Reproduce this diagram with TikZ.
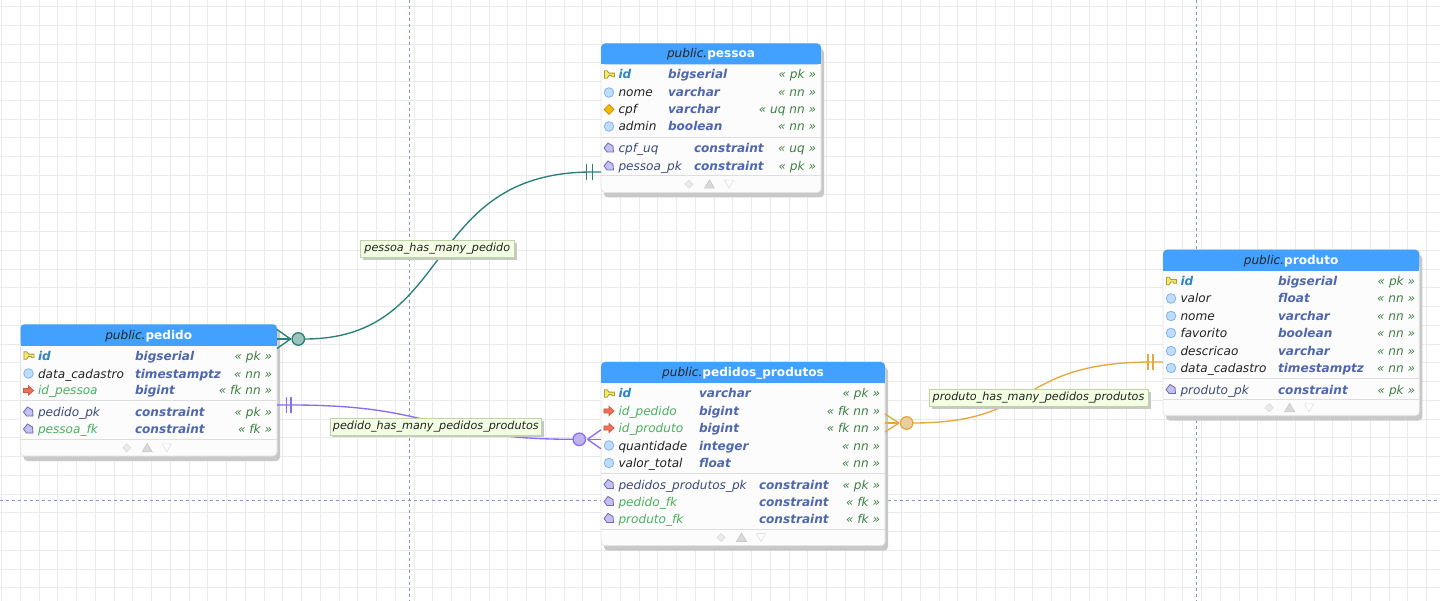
\documentclass[tikz,border=0pt]{standalone}
\usepackage{fontspec}
\setmainfont{DejaVu Sans}
\usetikzlibrary{shadows}
\definecolor{gridc}{HTML}{EAEAEA}
\definecolor{pagec}{HTML}{8494C6}
\definecolor{headc}{HTML}{42A0FF}
\definecolor{shadowc}{HTML}{C8C8C8}
\definecolor{bodyc}{HTML}{FCFCFC}
\definecolor{borderc}{HTML}{E4E4E4}
\definecolor{sepc}{HTML}{DEDEDE}
\definecolor{pkc}{HTML}{2E86C1}
\definecolor{plainc}{HTML}{222222}
\definecolor{fkc}{HTML}{4CAF5E}
\definecolor{conc}{HTML}{3D4A7A}
\definecolor{typec}{HTML}{4F67AE}
\definecolor{tagc}{HTML}{3F7F45}
\definecolor{tealc}{HTML}{2A8078}
\definecolor{tealf}{HTML}{9DC3BD}
\definecolor{purpc}{HTML}{8A6CF5}
\definecolor{purpf}{HTML}{C0B4EE}
\definecolor{orgc}{HTML}{E5A83F}
\definecolor{orgf}{HTML}{EACFA2}
\definecolor{lblf}{HTML}{F3FFE2}
\definecolor{lbld}{HTML}{BFD4A6}
\definecolor{keyf}{HTML}{F3E878}
\definecolor{keyd}{HTML}{A89C2A}
\definecolor{colf}{HTML}{BEDCFB}
\definecolor{cold}{HTML}{82B4EA}
\definecolor{uqf}{HTML}{F5B800}
\definecolor{uqd}{HTML}{B88C10}
\definecolor{fkf}{HTML}{F0705A}
\definecolor{fkd}{HTML}{C85A48}
\definecolor{conf}{HTML}{C4C0F0}
\definecolor{cond}{HTML}{6F69B3}
\tikzset{
  x=1pt,y=-1pt,
  tablebody/.style={draw=borderc,fill=bodyc,rounded corners=4pt,inner sep=0pt,outer sep=0pt,line width=.8pt},
  txt/.style={inner sep=0pt,outer sep=0pt,anchor=base west,font=\fontsize{12.1}{14}\selectfont\itshape},
  pkname/.style={txt,text=pkc,font=\fontsize{12.1}{14}\selectfont\itshape\bfseries},
  plainname/.style={txt,text=plainc},
  fkname/.style={txt,text=fkc},
  conname/.style={txt,text=conc},
  typetxt/.style={txt,text=typec,font=\fontsize{12.1}{14}\selectfont\itshape\bfseries},
  tagtxt/.style={txt,anchor=base east,text=tagc},
  titletxt/.style={inner sep=0pt,outer sep=0pt,anchor=base,font=\fontsize{12.1}{14}\selectfont},
  linklabel/.style={draw=lbld,fill=lblf,inner sep=0pt,line width=.7pt,text=plainc,
    font=\fontsize{11.2}{13}\selectfont\itshape,minimum height=16.5pt,
    drop shadow={shadow xshift=2.5pt,shadow yshift=-2.5pt,fill=shadowc,opacity=1}},
  crowdot/.style={circle,draw=#1,line width=1.3pt,minimum size=12.5pt,inner sep=0pt,outer sep=0pt},
  linkline/.style={draw=#1,line width=1.35pt},
  keyicon/.pic={\filldraw[fill=keyf,draw=keyd,line width=.8pt,scale=.92]
     (-5,-4)--(-2,-4)--(0,-1.5)--(6,-1.5)--(6,2.5)--(3,2.5)--(3,1)--(0,1)--(-2,4)--(-5,4)--cycle;},
  colicon/.pic={\filldraw[fill=colf,draw=cold,line width=.8pt] (0,0) circle (4.8);},
  uqicon/.pic={\filldraw[fill=uqf,draw=uqd,line width=.7pt] (-5,0)--(0,-5)--(5,0)--(0,5)--cycle;},
  fkicon/.pic={\filldraw[fill=fkf,draw=fkd,line width=.7pt,scale=.85]
     (-6,-2.4)--(0,-2.4)--(0,-5.4)--(6,0)--(0,5.4)--(0,2.4)--(-6,2.4)--cycle;},
  conicon/.pic={\filldraw[fill=conf,draw=cond,line width=.8pt]
     (-5,0)--(-1,-5)--(4,-2)--(4.5,4)--(-2,4)--cycle;},
  footicons/.pic={
    \filldraw[fill=black!8,draw=black!15,line width=.6pt] (-26,0)--(-22,-4)--(-18,0)--(-22,4)--cycle;
    \filldraw[fill=black!15,draw=black!22,line width=.6pt] (-6.5,4)--(-1.5,-4.5)--(3.5,4)--cycle;
    \filldraw[fill=white,draw=black!12,line width=.6pt] (13.5,-4)--(22.5,-4)--(18,4)--cycle;}
}
% id, x1, y1, x2, yhead, y2, title, sep1, sep2
\newcommand{\DbTable}[9]{%
  \fill[shadowc,rounded corners=4pt] (#2+3,#3+5) rectangle (#4+3,#6+5);
  \node[tablebody,anchor=north west,minimum width={(#4-#2)*1pt},minimum height={(#6-#3)*1pt}] (#1) at (#2,#3) {};
  \fill[headc,rounded corners=4pt] (#2,#3) rectangle (#4,#5);
  \fill[headc] (#2,#5-6) rectangle (#4,#5);
  \node[titletxt] (#1title) at ({(#2+#4)/2},#5-6.5) {\textit{\textcolor{black!85}{public.}}\textbf{\textcolor{white}{#7}}};
  \draw[sepc,line width=.8pt] (#2,#8) -- (#4,#8);
  \draw[sepc,line width=.8pt] (#2,#9) -- (#4,#9);
  \pic at ({(#2+#4)/2},#9+8.5) {footicons};
}
% node id, y, icon, name style, name, type x, type, tag
\newcommand{\DbRow}[8]{%
  \pic at (\IconX,#2) {#3};
  \node[#4] (#1n) at (\NameX,#2+4.5) {#5};
  \node[typetxt] (#1t) at (#6,#2+4.5) {#7};
  \node[tagtxt] (#1g) at (\TagX,#2+4.5) {« #8 »};
}
\begin{document}
\begin{tikzpicture}
\useasboundingbox (0,0) rectangle (1440,601);
\fill[white] (0,0) rectangle (1440,601);
% grid
\foreach \k in {0,...,76} \draw[gridc,line width=.9pt] ({1.5+18.75*\k},0) -- ({1.5+18.75*\k},601);
\foreach \k in {0,...,31} \draw[gridc,line width=.9pt] (0,{6.5+18.75*\k}) -- (1440,{6.5+18.75*\k});
% page limits
\draw[pagec,line width=.8pt,dash pattern=on 3pt off 3pt] (409,0) -- (409,601);
\draw[pagec,line width=.8pt,dash pattern=on 3pt off 3pt] (1196,0) -- (1196,601);
\draw[pagec,line width=.8pt,dash pattern=on 3pt off 3pt] (0,500) -- (1440,500);

\DbTable{pessoa}{601}{43.5}{821}{64.5}{192.5}{pessoa}{137.3}{175.7}
\def\IconX{609}\def\NameX{618.5}\def\TagX{816}
\DbRow{pa}{74.5}{keyicon}{pkname}{id}{668}{bigserial}{pk}
\DbRow{pb}{92.5}{colicon}{plainname}{nome}{668}{varchar}{nn}
\DbRow{pc}{109.5}{uqicon}{plainname}{cpf}{668}{varchar}{uq nn}
\DbRow{pd}{126.5}{colicon}{plainname}{admin}{668}{boolean}{nn}
\DbRow{pe}{148}{conicon}{conname}{cpf\_uq}{694}{constraint}{uq}
\DbRow{pf}{166}{conicon}{conname}{pessoa\_pk}{694}{constraint}{pk}

\DbTable{pedido}{20.5}{324.3}{277}{345.7}{456}{pedido}{400.7}{439.3}
\def\IconX{28.5}\def\NameX{38}\def\TagX{272}
\DbRow{ea}{355.5}{keyicon}{pkname}{id}{135}{bigserial}{pk}
\DbRow{eb}{373.5}{colicon}{plainname}{data\_cadastro}{135}{timestamptz}{nn}
\DbRow{ec}{390.5}{fkicon}{fkname}{id\_pessoa}{135}{bigint}{fk nn}
\DbRow{ed}{412}{conicon}{conname}{pedido\_pk}{135}{constraint}{pk}
\DbRow{ee}{429}{conicon}{fkname}{pessoa\_fk}{135}{constraint}{fk}

\DbTable{pprod}{601}{362}{885}{382.7}{545.7}{pedidos\_produtos}{473.3}{529}
\def\IconX{609}\def\NameX{618.5}\def\TagX{880}
\DbRow{ga}{393.5}{keyicon}{pkname}{id}{699}{varchar}{pk}
\DbRow{gb}{411}{fkicon}{fkname}{id\_pedido}{699}{bigint}{fk nn}
\DbRow{gc}{428}{fkicon}{fkname}{id\_produto}{699}{bigint}{fk nn}
\DbRow{gd}{445.5}{colicon}{plainname}{quantidade}{699}{integer}{nn}
\DbRow{ge}{463}{colicon}{plainname}{valor\_total}{699}{float}{nn}
\DbRow{gf}{484.5}{conicon}{conname}{pedidos\_produtos\_pk}{759}{constraint}{pk}
\DbRow{gg}{501.5}{conicon}{fkname}{pedido\_fk}{759}{constraint}{fk}
\DbRow{gh}{518.5}{conicon}{fkname}{produto\_fk}{759}{constraint}{fk}

\DbTable{produto}{1163}{249.7}{1419.3}{270.7}{415.7}{produto}{378.3}{399.3}
\def\IconX{1171}\def\NameX{1180.5}\def\TagX{1415}
\DbRow{ra}{281}{keyicon}{pkname}{id}{1278}{bigserial}{pk}
\DbRow{rb}{298.5}{colicon}{plainname}{valor}{1278}{float}{nn}
\DbRow{rc}{316}{colicon}{plainname}{nome}{1278}{varchar}{nn}
\DbRow{rd}{333}{colicon}{plainname}{favorito}{1278}{boolean}{nn}
\DbRow{re}{351}{colicon}{plainname}{descricao}{1278}{varchar}{nn}
\DbRow{rf}{368}{colicon}{plainname}{data\_cadastro}{1278}{timestamptz}{nn}
\DbRow{rg}{389.5}{conicon}{conname}{produto\_pk}{1278}{constraint}{pk}

% teal: pessoa_has_many_pedido
\node[crowdot=tealc,fill=tealf] (tdot) at (298.3,339) {};
\coordinate (tapex) at (290.5,339);
\coordinate (tbar) at (592.3,172);
\coordinate (tbarb) at (586.7,172);
\draw[linkline=tealc] (tdot.east) .. controls +(152,0) and +(-172,0) .. (tbar) -- (tbar -| pessoa.west);
\draw[linkline=tealc] (tbar)+(0,-8) -- +(0,8);
\draw[linkline=tealc] (tbarb)+(0,-8) -- +(0,8);
\draw[linkline=tealc] (tapex) -- (tapex -| pedido.east);
\draw[linkline=tealc] (tapex) -- ([yshift=9.5pt]tapex -| pedido.east);
\draw[linkline=tealc] (tapex) -- ([yshift=-9.5pt]tapex -| pedido.east);

% purple: pedido_has_many_pedidos_produtos
\node[crowdot=purpc,fill=purpf] (udot) at (579.3,439.3) {};
\coordinate (uapex) at (587.5,439.3);
\coordinate (ubar) at (291,405);
\coordinate (ubarb) at (286.7,405);
\draw[linkline=purpc] (udot.west) .. controls +(-143,0) and +(149,0) .. (ubar) -- (ubar -| pedido.east);
\draw[linkline=purpc] (ubar)+(0,-8) -- +(0,8);
\draw[linkline=purpc] (ubarb)+(0,-8) -- +(0,8);
\draw[linkline=purpc] (uapex) -- (uapex -| pprod.west);
\draw[linkline=purpc] (uapex) -- ([yshift=9.5pt]uapex -| pprod.west);
\draw[linkline=purpc] (uapex) -- ([yshift=-9.5pt]uapex -| pprod.west);

% orange: produto_has_many_pedidos_produtos
\node[crowdot=orgc,fill=orgf] (odot) at (906.7,423) {};
\coordinate (oapex) at (899,423);
\coordinate (obar) at (1153,362);
\coordinate (obarb) at (1148,362);
\draw[linkline=orgc] (odot.east) .. controls +(128,0) and +(-139,0) .. (obar) -- (obar -| produto.west);
\draw[linkline=orgc] (obar)+(0,-8) -- +(0,8);
\draw[linkline=orgc] (obarb)+(0,-8) -- +(0,8);
\draw[linkline=orgc] (oapex) -- (oapex -| pprod.east);
\draw[linkline=orgc] (oapex) -- ([yshift=9pt]oapex -| pprod.east);
\draw[linkline=orgc] (oapex) -- ([yshift=-9pt]oapex -| pprod.east);

% labels
\node[linklabel,minimum width=154pt] (l1) at (437.3,249) {\raisebox{-1.5pt}{pessoa\_has\_many\_pedido}};
\node[linklabel,minimum width=211.7pt] (l2) at (435.8,426.7) {\raisebox{-1.5pt}{pedido\_has\_many\_pedidos\_produtos}};
\node[linklabel,minimum width=219pt] (l3) at (1038.5,398) {\raisebox{-1.5pt}{produto\_has\_many\_pedidos\_produtos}};
\end{tikzpicture}
\end{document}
